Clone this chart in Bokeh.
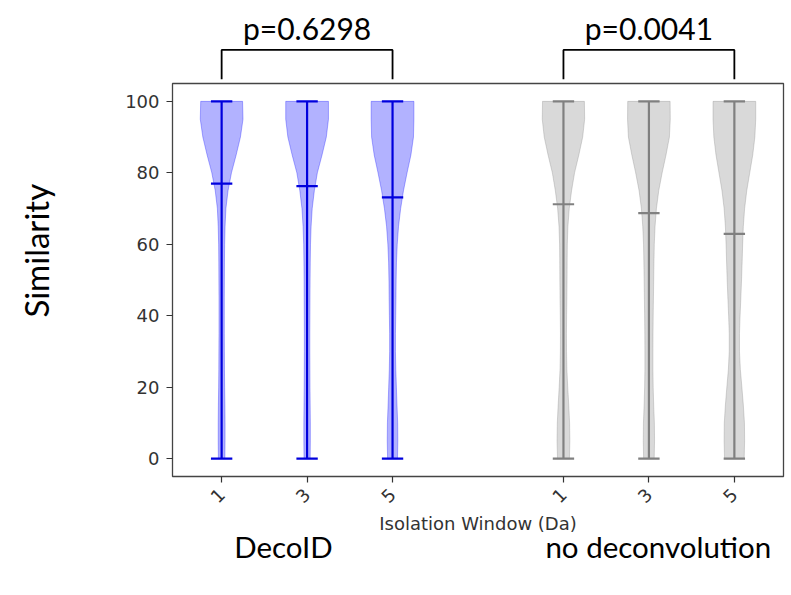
import numpy as np
from bokeh.plotting import figure
from bokeh.models import Range1d, FixedTicker, ColumnDataSource
from bokeh.core.properties import value
from bokeh.embed import file_html
from bokeh.resources import INLINE

# ---------------- data ----------------
positions = [1, 2, 3, 5, 6, 7]
tick_labels = ["1", "3", "5", "1", "3", "5"]
group_names = ["DecoID", "no deconvolution"]
p_values = ["p=0.6298", "p=0.0041"]
compare_pairs = [(1, 3), (5, 7)]

levels = [0, 5, 10, 15, 20, 25, 30, 35, 40, 45, 50, 55, 60, 65, 70, 75, 80, 85, 90, 95, 100]
hw_decoid_1 = [0.038, 0.040, 0.040, 0.038, 0.035, 0.033, 0.032, 0.031, 0.031, 0.031, 0.032,
               0.033, 0.035, 0.040, 0.050, 0.075, 0.115, 0.170, 0.220, 0.250, 0.245]
hw_decoid_3 = [0.036, 0.038, 0.038, 0.036, 0.034, 0.033, 0.032, 0.032, 0.033, 0.034, 0.035,
               0.037, 0.040, 0.047, 0.060, 0.085, 0.120, 0.175, 0.225, 0.250, 0.250]
hw_decoid_5 = [0.058, 0.062, 0.060, 0.052, 0.045, 0.038, 0.034, 0.034, 0.037, 0.040, 0.042,
               0.046, 0.055, 0.070, 0.095, 0.128, 0.170, 0.215, 0.245, 0.250, 0.250]
hw_nodeconv_1 = [0.070, 0.075, 0.072, 0.062, 0.050, 0.040, 0.036, 0.035, 0.037, 0.040, 0.042,
                 0.043, 0.045, 0.052, 0.068, 0.095, 0.130, 0.180, 0.225, 0.248, 0.245]
hw_nodeconv_3 = [0.062, 0.066, 0.064, 0.056, 0.050, 0.047, 0.047, 0.048, 0.050, 0.053, 0.056,
                 0.059, 0.063, 0.072, 0.088, 0.115, 0.155, 0.200, 0.240, 0.250, 0.248]
hw_nodeconv_5 = [0.115, 0.120, 0.118, 0.105, 0.088, 0.070, 0.060, 0.060, 0.067, 0.076, 0.084,
                 0.091, 0.097, 0.105, 0.120, 0.145, 0.180, 0.215, 0.240, 0.250, 0.250]
half_widths = [hw_decoid_1, hw_decoid_3, hw_decoid_5, hw_nodeconv_1, hw_nodeconv_3, hw_nodeconv_5]

mins = [0, 0, 0, 0, 0, 0]
maxs = [100, 100, 100, 100, 100, 100]
means = [77.0, 76.3, 73.1, 71.2, 68.7, 62.9]

# ---------------- styling ----------------
BLUE_LINE = "#0000dd"
BLUE_FILL = "#0000ff"
GREY_LINE = "#808080"
GREY_FILL = "#808080"
line_colors = [BLUE_LINE] * 3 + [GREY_LINE] * 3
fill_colors = [BLUE_FILL] * 3 + [GREY_FILL] * 3
CAP = 0.125

p = figure(width=791, height=595,
           x_range=Range1d(0.425, 7.575), y_range=Range1d(-5, 105),
           output_backend="svg", toolbar_location=None,
           min_border_left=172, min_border_right=8,
           min_border_top=83, min_border_bottom=119)
p.background_fill_color = "white"
p.border_fill_color = "white"
p.outline_line_color = "#444444"
p.outline_line_width = 1.3
p.xgrid.visible = False
p.ygrid.visible = False

# violin bodies
xs, ys = [], []
for c, hw in zip(positions, half_widths):
    left = [c - w for w in hw]
    right = [c + w for w in reversed(hw)]
    xs.append(left + right)
    ys.append(list(levels) + list(reversed(levels)))
p.patches(xs=xs, ys=ys, fill_color=fill_colors, fill_alpha=0.3,
          line_color=fill_colors, line_alpha=0.3, line_width=1)

# whiskers, caps, means
src = ColumnDataSource(dict(
    x=positions, lo=mins, hi=maxs, mean=means,
    xl=[c - CAP for c in positions], xr=[c + CAP for c in positions],
    color=line_colors))
p.segment(x0="x", y0="lo", x1="x", y1="hi", line_color="color", line_width=2.2, source=src)
p.segment(x0="xl", y0="lo", x1="xr", y1="lo", line_color="color", line_width=2.2, source=src)
p.segment(x0="xl", y0="hi", x1="xr", y1="hi", line_color="color", line_width=2.2, source=src)
p.segment(x0="xl", y0="mean", x1="xr", y1="mean", line_color="color", line_width=2.2, source=src)

# significance brackets
br_xs = [[a, a, b, b] for a, b in compare_pairs]
br_ys = [[106.2, 114.4, 114.4, 106.2] for _ in compare_pairs]
p.multi_line(xs=br_xs, ys=br_ys, line_color="black", line_width=1.8, level="overlay")
p.text(x=[(a + b) / 2 for a, b in compare_pairs], y=[120.6] * 2, text=p_values,
       text_align="center", text_baseline="alphabetic",
       text_font=value("Lato"), text_font_size="30px", text_color="black", level="overlay")

# group names under the axis
p.text(x=[1.724, 6.11], y=[-24.6, -24.6], text=group_names,
       text_align="center", text_baseline="alphabetic",
       text_font=value("Lato"), text_font_size="29.5px", text_color="black", level="overlay")

# y title
p.text(x=[-1.167], y=[58.2], text=["Similarity"], angle=np.pi / 2,
       text_align="center", text_baseline="middle",
       text_font=value("Lato"), text_font_size="33px", text_color="black", level="overlay")

# axes
p.xaxis.ticker = FixedTicker(ticks=positions)
p.xaxis.major_label_overrides = {pos: lab for pos, lab in zip(positions, tick_labels)}
p.xaxis.major_label_orientation = np.pi / 4
p.xaxis.axis_label = "Isolation Window (Da)"
p.yaxis.ticker = FixedTicker(ticks=[0, 20, 40, 60, 80, 100])
for ax in (p.xaxis[0], p.yaxis[0]):
    ax.axis_line_color = None
    ax.minor_tick_line_color = None
    ax.major_tick_in = 0
    ax.major_tick_out = 6
    ax.major_tick_line_color = "#333333"
    ax.major_tick_line_width = 1.2
    ax.major_label_text_font = "DejaVu Sans"
    ax.major_label_text_font_size = "18px"
    ax.major_label_text_color = "#333333"
    ax.major_label_standoff = 7
    ax.axis_label_text_font = "DejaVu Sans"
    ax.axis_label_text_font_size = "18px"
    ax.axis_label_text_font_style = "normal"
    ax.axis_label_text_color = "#333333"
p.xaxis.major_label_standoff = 9
p.xaxis.axis_label_standoff = 1

open("out.html", "w").write(file_html(p, INLINE))
